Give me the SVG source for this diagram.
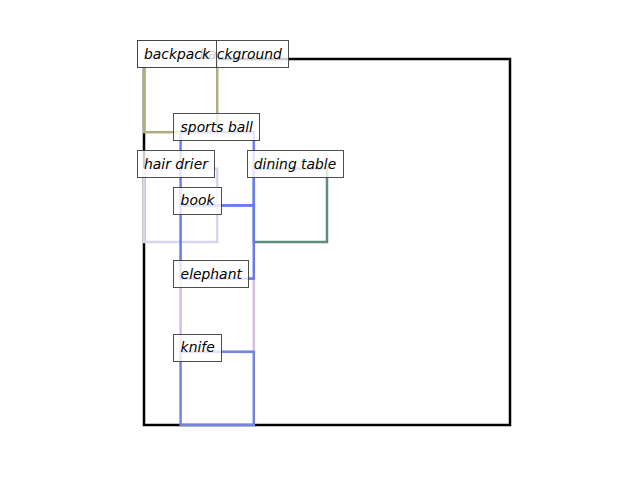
<svg xmlns="http://www.w3.org/2000/svg" width="640" height="480" viewBox="0 0 640 480">
<style>
.box{fill:none;stroke-width:2.5}
.lbl rect{fill:#ffffff;fill-opacity:0.8;stroke:#3a3a3a;stroke-opacity:0.9;stroke-width:1}
.lbl text{font-family:"DejaVu Sans",sans-serif;font-style:oblique;font-size:13.89px;fill:#000000}
</style>
<rect width="640" height="480" fill="#ffffff"/>
<g id="boxes">
<g id="background"><rect class="box" x="144" y="59" width="366" height="366" stroke="#000000" stroke-width="2.2"/></g>
<g id="backpack"><rect class="box" x="144" y="59" width="73.2" height="73.2" stroke="#b0ad80"/></g>
<g id="hair-drier"><rect class="box" x="144" y="168.8" width="73.2" height="73.2" stroke="#d6d6f0"/></g>
<g id="dining-table"><rect class="box" x="253.8" y="168.8" width="73.2" height="73.2" stroke="#5e8c7a"/></g>
<g id="sports-ball"><rect class="box" x="180.6" y="132.2" width="73.2" height="73.2" stroke="#6d7ef0"/></g>
<g id="elephant"><rect class="box" x="180.6" y="278.6" width="73.2" height="73.2" stroke="#d8bde3"/></g>
<g id="book"><rect class="box" x="180.6" y="205.4" width="73.2" height="73.2" stroke="#6879ea"/></g>
<g id="knife"><rect class="box" x="180.6" y="351.8" width="73.2" height="73.2" stroke="#7484da"/></g>
</g>
<g id="labels">
<g id="label-background" class="lbl"><rect x="137.5" y="40.5" width="151" height="27"/><text x="199.5" y="59">background</text></g>
<g id="label-backpack" class="lbl"><rect x="137.5" y="40.5" width="79" height="27"/><text x="144" y="59">backpack</text></g>
<g id="label-sports-ball" class="lbl"><rect x="173.5" y="113.5" width="86" height="27"/><text x="180.6" y="132.2">sports ball</text></g>
<g id="label-hair-drier" class="lbl"><rect x="137.5" y="150.5" width="77" height="27"/><text x="144" y="168.8">hair drier</text></g>
<g id="label-dining-table" class="lbl"><rect x="247.5" y="150.5" width="96" height="27"/><text x="253.8" y="168.8">dining table</text></g>
<g id="label-book" class="lbl"><rect x="173.5" y="187.5" width="48" height="27"/><text x="180.6" y="205.4">book</text></g>
<g id="label-elephant" class="lbl"><rect x="173.5" y="260.5" width="75" height="27"/><text x="180.6" y="278.6">elephant</text></g>
<g id="label-knife" class="lbl"><rect x="173.5" y="334.5" width="48" height="27"/><text x="180.6" y="351.8">knife</text></g>
</g>
</svg>
